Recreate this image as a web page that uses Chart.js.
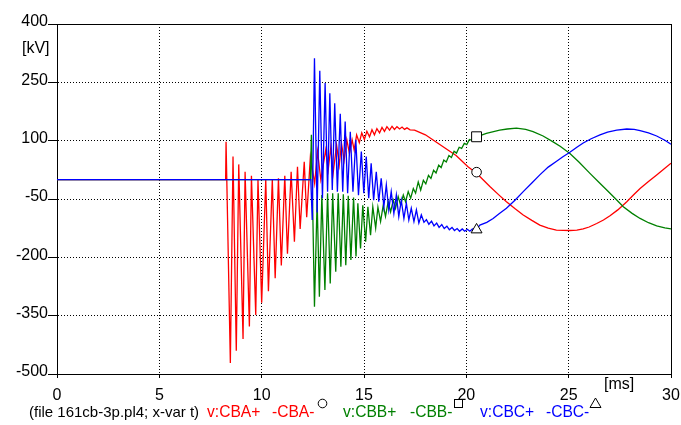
<!DOCTYPE html>
<html>
<head>
<meta charset="utf-8">
<script src="https://cdn.jsdelivr.net/npm/chart.js@4/dist/chart.umd.min.js"></script>
<style>
  html, body { margin: 0; padding: 0; background: #fff; }
  #wrap { position: relative; width: 681px; height: 425px; font-family: "Liberation Sans", Arial, sans-serif; }
  #c { position: absolute; left: 0; top: 0; }
  .lbl { position: absolute; font-size: 15px; line-height: 15px; white-space: nowrap; color: #000; }
  .lg { font-size: 15.6px; }
  .mk { position: absolute; }
</style>
</head>
<body>
<div id="wrap">
  <canvas id="c" width="681" height="425"></canvas>
  <div class="lbl" style="left:22px; top:40px; font-size:16px;">[kV]</div>
  <div class="lbl" style="left:604px; top:376px; font-size:16px;">[ms]</div>
  <div class="lbl" style="left:29px; top:404px;">(file 161cb-3p.pl4; x-var t)</div>
  <div class="lbl lg" style="left:207px; top:404px; color:#ff0000;">v:CBA+</div>
  <div class="lbl lg" style="left:272px; top:404px; color:#ff0000;">-CBA-</div>
  <svg class="mk" style="left:317px; top:398px;" width="11" height="11"><circle cx="5.5" cy="5.5" r="4.3" fill="none" stroke="#000" stroke-width="1"/></svg>
  <div class="lbl lg" style="left:343px; top:404px; color:#008000;">v:CBB+</div>
  <div class="lbl lg" style="left:410px; top:404px; color:#008000;">-CBB-</div>
  <svg class="mk" style="left:453px; top:398px;" width="11" height="11"><rect x="1.5" y="1.5" width="8" height="8" fill="none" stroke="#000" stroke-width="1"/></svg>
  <div class="lbl lg" style="left:480px; top:404px; color:#0000ff;">v:CBC+</div>
  <div class="lbl lg" style="left:546px; top:404px; color:#0000ff;">-CBC-</div>
  <svg class="mk" style="left:589px; top:397px;" width="13" height="12"><polygon points="6.5,1 12,10.5 1,10.5" fill="none" stroke="#000" stroke-width="1"/></svg>
</div>
<script>
// ---- data (time in ms, voltage in kV) ----
const xTicks = [0, 5, 10, 15, 20, 25, 30];
const yTicks = [400, 250, 100, -50, -200, -350, -500];

const cbaT = [0, 8.24, 8.26, 8.47, 8.60, 8.76, 8.88, 9.09, 9.19, 9.40, 9.50, 9.71, 9.82, 10.00, 10.20, 10.33, 10.52, 10.66, 10.82, 10.96, 11.13, 11.26, 11.44, 11.60, 11.75, 11.88, 12.08, 12.20, 12.38,
  12.59, 12.73, 12.89, 13.13, 13.25, 13.38, 13.49, 13.66, 13.79, 13.90, 14.03, 14.16, 14.29, 14.42, 14.52, 14.64,
  14.77, 14.89, 15.02, 15.14, 15.27, 15.39, 15.51, 15.63, 15.76, 15.88, 16.00, 16.12, 16.25, 16.37, 16.49, 16.61, 16.74, 16.86, 16.98, 17.10, 17.25, 17.47,
  18.00, 18.45, 19.10, 19.50, 20.08, 20.50, 21.15, 21.60, 21.96, 22.40, 22.78, 23.20, 23.59, 24.00, 24.40, 25.06, 25.40, 25.71, 26.00, 26.37, 26.70, 27.02, 27.40, 27.84, 28.20, 28.49, 28.90, 29.30, 29.70, 30.00];
const cbaV = [0, 0, 97, -472, 59, -440, 39, -410, 20, -378, 10, -348, 0, -317, 0, -287, 0, -254, 3, -221, 10, -191, 20, -160, 33, -127, 46, -97, 59,
  -10, 72, 0, 76, 25, 84, 16, 89, 37, 93, 50, 102, 67, 102, 76, 115,
  95, 120, 103, 124, 110, 128, 115, 131, 120, 134, 124, 136, 127, 137, 129, 136, 130, 135, 129, 133, 128, 127,
  115, 99, 76, 62, 33, 16, -18, -40, -57, -76, -91, -105, -117, -125, -130, -131, -130, -127, -122, -113, -104, -93, -78, -57, -38, -23, -5, 12, 29, 42];

const cbbT = [0, 12.38, 12.43, 12.58, 12.71, 12.82, 12.94, 13.09, 13.22, 13.35, 13.47, 13.62, 13.74, 13.87, 13.99, 14.11, 14.23, 14.36, 14.49, 14.61,
  14.70, 14.83, 14.94, 15.08, 15.19, 15.32, 15.43, 15.57, 15.68, 15.81, 15.94, 16.05, 16.18, 16.30, 16.43, 16.54, 16.67, 16.79, 16.92, 17.03, 17.16, 17.28, 17.41, 17.52, 17.65, 17.77,
  17.90, 18.02, 18.15, 18.27, 18.40, 18.52, 18.65, 18.77, 18.90, 19.02, 19.15, 19.27, 19.40, 19.52, 19.65, 19.77, 19.90, 20.02, 20.15, 20.27, 20.40,
  20.98, 21.63, 22.00, 22.45, 22.90, 23.26, 23.75, 24.24, 24.60, 25.06, 25.50, 26.04, 26.50, 26.86, 27.30, 27.67, 28.10, 28.49, 28.90, 29.30, 29.70, 30.00];
const cbbV = [0, 0, 115, -327, -53, -301, -40, -284, -35, -267, -35, -237, -35, -224, -38, -220, -42, -207, -46, -198,
  -61, -177, -66, -160, -70, -143, -70, -125, -71, -108, -66, -95, -57, -83, -53, -74, -44, -66, -40, -57, -31, -48, -23, -35, -6, -27,
  -2, -11, 11, 3, 24, 17, 37, 31, 50, 45, 62, 57, 73, 68, 83, 80, 93, 90, 103, 101, 108,
  119, 127, 130, 132, 129, 123, 112, 97, 85, 67, 45, 16, -8, -27, -50, -70, -87, -100, -111, -119, -124, -127];

const cbcT = [0, 12.40, 12.47, 12.58, 12.71, 12.84, 12.97, 13.10, 13.22, 13.33, 13.45, 13.57, 13.70, 13.84, 13.96, 14.08, 14.20, 14.33, 14.46, 14.60,
  14.73, 14.87, 14.99, 15.11, 15.23, 15.35, 15.47, 15.60, 15.72, 15.84, 15.97, 16.09, 16.21, 16.33, 16.46, 16.58, 16.70, 16.82, 16.95, 17.07, 17.19, 17.31, 17.44, 17.56, 17.68, 17.80, 17.93,
  18.05, 18.17, 18.30, 18.42, 18.55, 18.67, 18.80, 18.92, 19.05, 19.17, 19.30, 19.42, 19.55, 19.67, 19.80, 19.92, 20.05, 20.17, 20.30, 20.50,
  20.66, 21.00, 21.31, 21.60, 21.96, 22.40, 22.78, 23.20, 23.59, 24.00, 24.41, 24.70, 25.06, 25.40, 25.71, 26.10, 26.53, 26.90, 27.35, 27.84, 28.20, 28.49, 28.90, 29.30, 29.70, 30.00];
const cbcV = [0, 0, -104, 312, -85, 280, -48, 248, -31, 222, -27, 196, -31, 169, -31, 149, -35, 123, -31, 102,
  -40, 72, -35, 59, -48, 42, -53, 20, -57, 3, -70, -14, -78, -31, -87, -40, -95, -53, -100, -61, -104, -74, -108, -78, -112, -91, -110,
  -103, -115, -107, -119, -112, -123, -116, -126, -120, -129, -123, -131, -126, -133, -127, -133, -128, -133, -127, -128,
  -117, -110, -100, -88, -74, -52, -31, -9, 12, 32, 47, 58, 70, 83, 94, 105, 115, 122, 127, 130, 129, 126, 120, 112, 101, 91];

const markerT = 20.5;
const markerV = [19, 110, -129];   // CBA (circle), CBB (square), CBC (triangle)

// ---- build datasets ----
const toXY = (t, v) => t.map((x, i) => ({ x: x, y: v[i] }));
const FONT = '"Liberation Sans", Arial, sans-serif';

const boxPlugin = {
  id: 'box',
  beforeDatasetsDraw(chart) {
    const a = chart.chartArea, ctx = chart.ctx;
    ctx.save();
    ctx.strokeStyle = '#000';
    ctx.lineWidth = 1;
    ctx.setLineDash([]);
    ctx.strokeRect(Math.round(a.left) + 0.5, Math.round(a.top) + 0.5, Math.round(a.right - a.left), Math.round(a.bottom - a.top));
    ctx.restore();
  }
};

const line = (data, color, order) => ({
  data: data, borderColor: color, backgroundColor: color, borderWidth: 1.3,
  pointRadius: 0, tension: 0, fill: false, order: order, showLine: true
});

new Chart(document.getElementById('c'), {
  type: 'scatter',
  data: {
    datasets: [
      line(toXY(cbaT, cbaV), '#ff0000', 3),
      line(toXY(cbbT, cbbV), '#008000', 2),
      line(toXY(cbcT, cbcV), '#0000ff', 1),
      { data: [{ x: markerT, y: markerV[0] }], pointStyle: 'circle', pointRadius: 4.8, borderColor: '#000', backgroundColor: '#fff', borderWidth: 1, showLine: false, order: 0 },
      { data: [{ x: markerT, y: markerV[1] }], pointStyle: 'rect', pointRadius: 7, borderColor: '#000', backgroundColor: '#fff', borderWidth: 1, showLine: false, order: 0 },
      { data: [{ x: markerT, y: markerV[2] }], pointStyle: 'triangle', pointRadius: 6.3, borderColor: '#000', backgroundColor: '#fff', borderWidth: 1, showLine: false, order: 0 }
    ]
  },
  options: {
    responsive: false,
    animation: false,
    events: [],
    layout: { padding: { left: 0, right: 10, top: 24, bottom: 25 } },
    plugins: { legend: { display: false }, tooltip: { enabled: false } },
    scales: {
      x: {
        type: 'linear', min: 0, max: 30,
        afterBuildTicks(s) { s.ticks = xTicks.map(v => ({ value: v })); },
        afterFit(s) { s.height = 26; s.paddingLeft = 0; s.paddingRight = 0; },
        ticks: { color: '#000', font: { family: FONT, size: 16 }, padding: 8, maxRotation: 0, autoSkip: false },
        grid: { color: '#000', lineWidth: 1, drawTicks: true, tickLength: 4, tickColor: '#000' },
        border: { color: '#000', width: 1, dash: [1, 2] }
      },
      y: {
        type: 'linear', min: -500, max: 400,
        afterBuildTicks(s) { s.ticks = yTicks.slice().reverse().map(v => ({ value: v })); },
        afterFit(s) { s.width = 57; s.paddingTop = 0; s.paddingBottom = 0; },
        ticks: { color: '#000', font: { family: FONT, size: 16 }, padding: 0, labelOffset: -2, autoSkip: false },
        grid: { color: '#000', lineWidth: 1, drawTicks: true, tickLength: 9, tickColor: '#000' },
        border: { color: '#000', width: 1, dash: [1, 2] }
      }
    }
  },
  plugins: [boxPlugin]
});
</script>
</body>
</html>
